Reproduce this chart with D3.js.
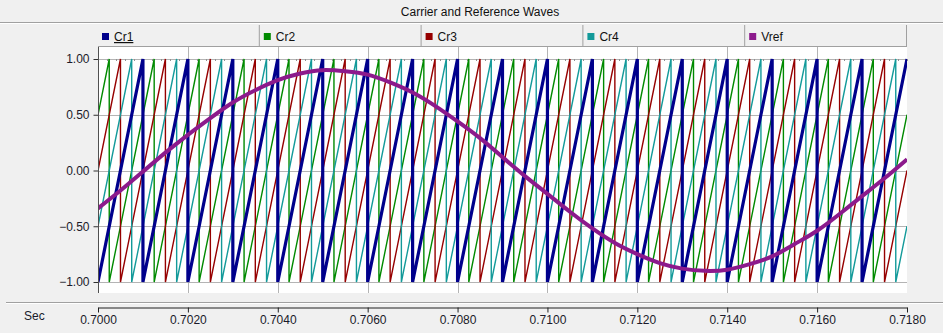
<!DOCTYPE html>
<html><head><meta charset="utf-8">
<script src="https://cdn.jsdelivr.net/npm/d3@7/dist/d3.min.js"></script>
<style>
html,body{margin:0;padding:0;background:#f0f0f0;}
svg{display:block;font-family:"Liberation Sans",Arial,sans-serif;}
</style></head>
<body>
<svg id="chart" width="943" height="333"></svg>
<script>
// ---- data ----
const title = "Carrier and Reference Waves";
const seriesNames = ["Cr1", "Cr2", "Cr3", "Cr4", "Vref"];
const seriesColors = ["#00008c", "#008a00", "#960000", "#139a9a", "#8c1a8c"];
const xTickLabels = [0.7000, 0.7020, 0.7040, 0.7060, 0.7080, 0.7100, 0.7120, 0.7140, 0.7160, 0.7180];
const yTickLabels = [1.00, 0.50, 0.00, -0.50, -1.00];
const xUnit = "Sec";

// carrier sawtooths: times where each carrier reaches +1 and drops to -1
const cr1Peaks = [0.7010,0.7020,0.7030,0.7040,0.7050,0.7060,0.7070,0.7080,0.7090,0.7100,0.7110,0.7120,0.7130,0.7140,0.7150,0.7160,0.7170,0.7180];
const cr2Peaks = [0.70025,0.70125,0.70225,0.70325,0.70425,0.70525,0.70625,0.70725,0.70825,0.70925,0.71025,0.71125,0.71225,0.71325,0.71425,0.71525,0.71625,0.71725];
const cr3Peaks = [0.7005,0.7015,0.7025,0.7035,0.7045,0.7055,0.7065,0.7075,0.7085,0.7095,0.7105,0.7115,0.7125,0.7135,0.7145,0.7155,0.7165,0.7175];
const cr4Peaks = [0.70075,0.70175,0.70275,0.70375,0.70475,0.70575,0.70675,0.70775,0.70875,0.70975,0.71075,0.71175,0.71275,0.71375,0.71475,0.71575,0.71675,0.71775];
// carrier values at the left (0.7000) and right (0.7180) edges
const carrierStart = [-1.0, 0.5, 0.0, -0.5];
const carrierEnd = [1.0, 0.5, 0.0, -0.5];

// reference wave sampled every 0.0005 s
const vrefTimes = [0.7000,0.7005,0.7010,0.7015,0.7020,0.7025,0.7030,0.7035,0.7040,0.7045,0.7050,0.7055,0.7060,0.7065,0.7070,0.7075,0.7080,0.7085,0.7090,0.7095,0.7100,0.7105,0.7110,0.7115,0.7120,0.7125,0.7130,0.7135,0.7140,0.7145,0.7150,0.7155,0.7160,0.7165,0.7170,0.7175,0.7180];
const vrefValues = [-0.34,-0.18,-0.01,0.16,0.32,0.47,0.61,0.72,0.81,0.87,0.90,0.89,0.86,0.79,0.70,0.58,0.44,0.29,0.12,-0.05,-0.21,-0.37,-0.52,-0.65,-0.75,-0.83,-0.88,-0.90,-0.89,-0.84,-0.77,-0.66,-0.54,-0.39,-0.23,-0.07,0.10];

// ---- drawing ----
const svg = d3.select("#chart");
const L = 98, R = 907, T = 47, B = 293;
const x = d3.scaleLinear().domain([0.7000, 0.7180]).range([L, R]);
const y = d3.scaleLinear().domain([-1, 1]).range([282, 59]);

// title bar
svg.append("line").attr("x1",0).attr("x2",943).attr("y1",22.5).attr("y2",22.5).attr("stroke","#a0a0a0");
svg.append("line").attr("x1",0).attr("x2",943).attr("y1",23.5).attr("y2",23.5).attr("stroke","#ffffff");
svg.append("text").attr("x",480).attr("y",16).attr("text-anchor","middle")
  .attr("font-size",12).attr("fill","#111").text(title);

// legend
const cellW = (R - L) / seriesNames.length;
const leg = svg.append("g");
seriesNames.forEach((n, i) => {
  const cx = L + i * cellW;
  leg.append("line").attr("x1",cx+cellW-0.5).attr("x2",cx+cellW-0.5).attr("y1",25).attr("y2",46)
    .attr("stroke","#a0a0a0");
  leg.append("rect").attr("x",cx+4).attr("y",33).attr("width",7).attr("height",7).attr("fill",seriesColors[i]);
  const t = leg.append("text").attr("x",cx+16).attr("y",41).attr("font-size",12).attr("fill","#111").text(n);
  if (i === 0) t.attr("text-decoration","underline");
});
svg.append("line").attr("x1",L).attr("x2",R).attr("y1",46.5).attr("y2",46.5).attr("stroke","#a0a0a0");

// plot area
svg.append("rect").attr("x",L).attr("y",T).attr("width",R-L).attr("height",B-T).attr("fill","#ffffff");
svg.append("defs").append("clipPath").attr("id","clip")
  .append("rect").attr("x",L).attr("y",T).attr("width",R-L).attr("height",B-T);

const grid = svg.append("g").attr("stroke","#b4b4b4").attr("stroke-width",1);
xTickLabels.slice(1, -1).forEach(v => {
  grid.append("line").attr("x1",Math.round(x(v))+0.5).attr("x2",Math.round(x(v))+0.5).attr("y1",T).attr("y2",B);
});
yTickLabels.forEach(v => {
  grid.append("line").attr("x1",L).attr("x2",R).attr("y1",Math.round(y(v))+0.5).attr("y2",Math.round(y(v))+0.5);
});

// minor ticks along top grid line
const minor = svg.append("g").attr("stroke","#909090");
d3.range(0, 91).forEach(k => {
  const xv = Math.round(L + k * (R - L) / 90) + 0.5;
  minor.append("line").attr("x1",xv).attr("x2",xv).attr("y1",Math.round(y(1))).attr("y2",Math.round(y(1))+2);
});

// carriers
const plot = svg.append("g").attr("clip-path","url(#clip)");
const line = d3.line().x(d => x(d[0])).y(d => y(d[1]));
const peaksList = [cr1Peaks, cr2Peaks, cr3Peaks, cr4Peaks];
const widths = [3.2, 1.4, 1.4, 1.4];
const order = [1, 2, 3, 0];
order.forEach(i => {
  const pts = [[0.7000, carrierStart[i]]];
  peaksList[i].forEach(p => { pts.push([p, 1]); pts.push([p, -1]); });
  if (peaksList[i][peaksList[i].length-1] < 0.7180) pts.push([0.7180, carrierEnd[i]]);
  else pts.pop();
  plot.append("path").datum(pts).attr("d", line).attr("fill","none")
    .attr("stroke", seriesColors[i]).attr("stroke-width", widths[i]);
});

// reference
const vref = vrefTimes.map((t, i) => [t, vrefValues[i]]);
const vline = d3.line().x(d => x(d[0])).y(d => y(d[1])).curve(d3.curveNatural);
plot.append("path").datum(vref).attr("d", vline)
  .attr("fill","none").attr("stroke", seriesColors[4]).attr("stroke-width", 4);

// y axis
const yAxis = svg.append("g").attr("transform",`translate(${L+0.5},0)`)
  .call(d3.axisLeft(y).tickValues(yTickLabels).tickSize(5).tickSizeOuter(0).tickFormat(d3.format(".2f")));
yAxis.select(".domain").remove();
yAxis.append("line").attr("x1",0).attr("x2",0).attr("y1",T).attr("y2",B).attr("stroke","#505050");
yAxis.selectAll(".tick line").attr("stroke","#303030");
yAxis.selectAll("text").attr("font-size",12).attr("fill","#1a1a2a").attr("x",-9)
  .attr("font-family","Liberation Sans, Arial, sans-serif");

// separator
svg.append("line").attr("x1",6).attr("x2",943).attr("y1",302.5).attr("y2",302.5).attr("stroke","#a0a0a0").attr("stroke-width",1);
svg.append("line").attr("x1",6).attr("x2",943).attr("y1",303.5).attr("y2",303.5).attr("stroke","#ffffff").attr("stroke-width",1);

// x axis
const xAxis = svg.append("g").attr("transform",`translate(0,307.5)`)
  .call(d3.axisBottom(x).tickValues(xTickLabels).tickSize(5).tickSizeOuter(0).tickFormat(d3.format(".4f")));
xAxis.select(".domain").attr("stroke","#202020");
xAxis.selectAll(".tick line").attr("stroke","#202020");
xAxis.selectAll("text").attr("font-size",12).attr("fill","#1a1a2a").attr("y",8)
  .attr("font-family","Liberation Sans, Arial, sans-serif");
svg.append("text").attr("x",24).attr("y",320).attr("font-size",12).attr("fill","#1a1a2a").text(xUnit);
</script>
</body></html>
